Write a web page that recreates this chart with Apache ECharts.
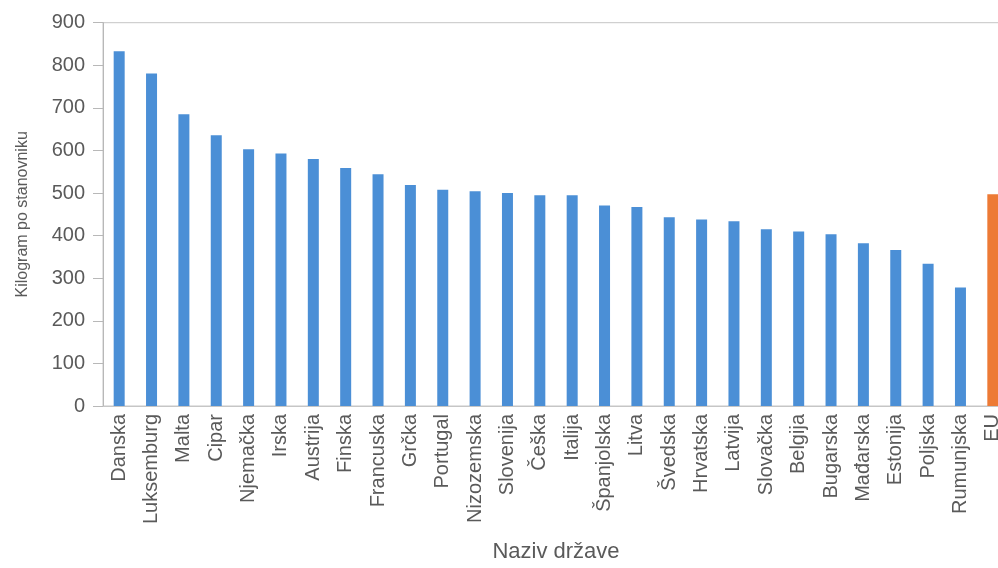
<!DOCTYPE html>
<html>
<head>
<meta charset="utf-8">
<script src="https://cdn.jsdelivr.net/npm/echarts@6/dist/echarts.min.js"></script>
<style>
html,body{margin:0;padding:0;overflow:hidden;background:#fff;width:998px;height:568px;}
#c{width:1010px;height:568px;}
</style>
</head>
<body>
<div id="c"></div>
<script>
const categories = ['Danska','Luksemburg','Malta','Cipar','Njemačka','Irska','Austrija','Finska','Francuska','Grčka','Portugal','Nizozemska','Slovenija','Češka','Italija','Španjolska','Litva','Švedska','Hrvatska','Latvija','Slovačka','Belgija','Bugarska','Mađarska','Estonija','Poljska','Rumunjska','EU'];
const values = [833,781,685,636,603,593,580,559,544,519,508,504,500,495,495,471,467,443,438,434,415,410,403,382,366,334,278,497];
const yTicks = [0,100,200,300,400,500,600,700,800,900];
const highlight = 'EU';

const chart = echarts.init(document.getElementById('c'));
chart.setOption({
  animation:false,
  backgroundColor:'#fff',
  grid:{left:103,top:22.7,width:906,bottom:156.3,show:true,borderColor:'#c6c6c6',borderWidth:1,backgroundColor:'transparent'},
  xAxis:{
    type:'category',
    data:categories,
    name:'Naziv države',
    nameLocation:'middle',
    nameGap:135,
    nameTextStyle:{fontFamily:'Liberation Sans',fontSize:22,color:'#5a5a5a'},
    axisLine:{lineStyle:{color:'#c6c6c6',width:1}},
    axisTick:{show:false},
    axisLabel:{rotate:90,margin:8,interval:0,fontFamily:'Liberation Sans',fontSize:20,color:'#5a5a5a'}
  },
  yAxis:{
    type:'value',
    min:yTicks[0],
    max:yTicks[yTicks.length-1],
    interval:100,
    name:'Kilogram po stanovniku',
    nameLocation:'middle',
    nameGap:72,
    nameTextStyle:{fontFamily:'Liberation Sans',fontSize:16,color:'#5a5a5a'},
    axisLine:{show:true,lineStyle:{color:'#b8b8b8',width:1}},
    axisTick:{show:true,length:10,lineStyle:{color:'#b8b8b8'}},
    splitLine:{show:false},
    axisLabel:{margin:18,fontFamily:'Liberation Sans',fontSize:20,color:'#5a5a5a'}
  },
  series:[{
    type:'bar',
    barWidth:11,
    data:values.map((v,i)=>({value:v,itemStyle:{color:categories[i]===highlight?'#ed7a35':'#4b8fd6'}}))
  }]
});
</script>
</body>
</html>
